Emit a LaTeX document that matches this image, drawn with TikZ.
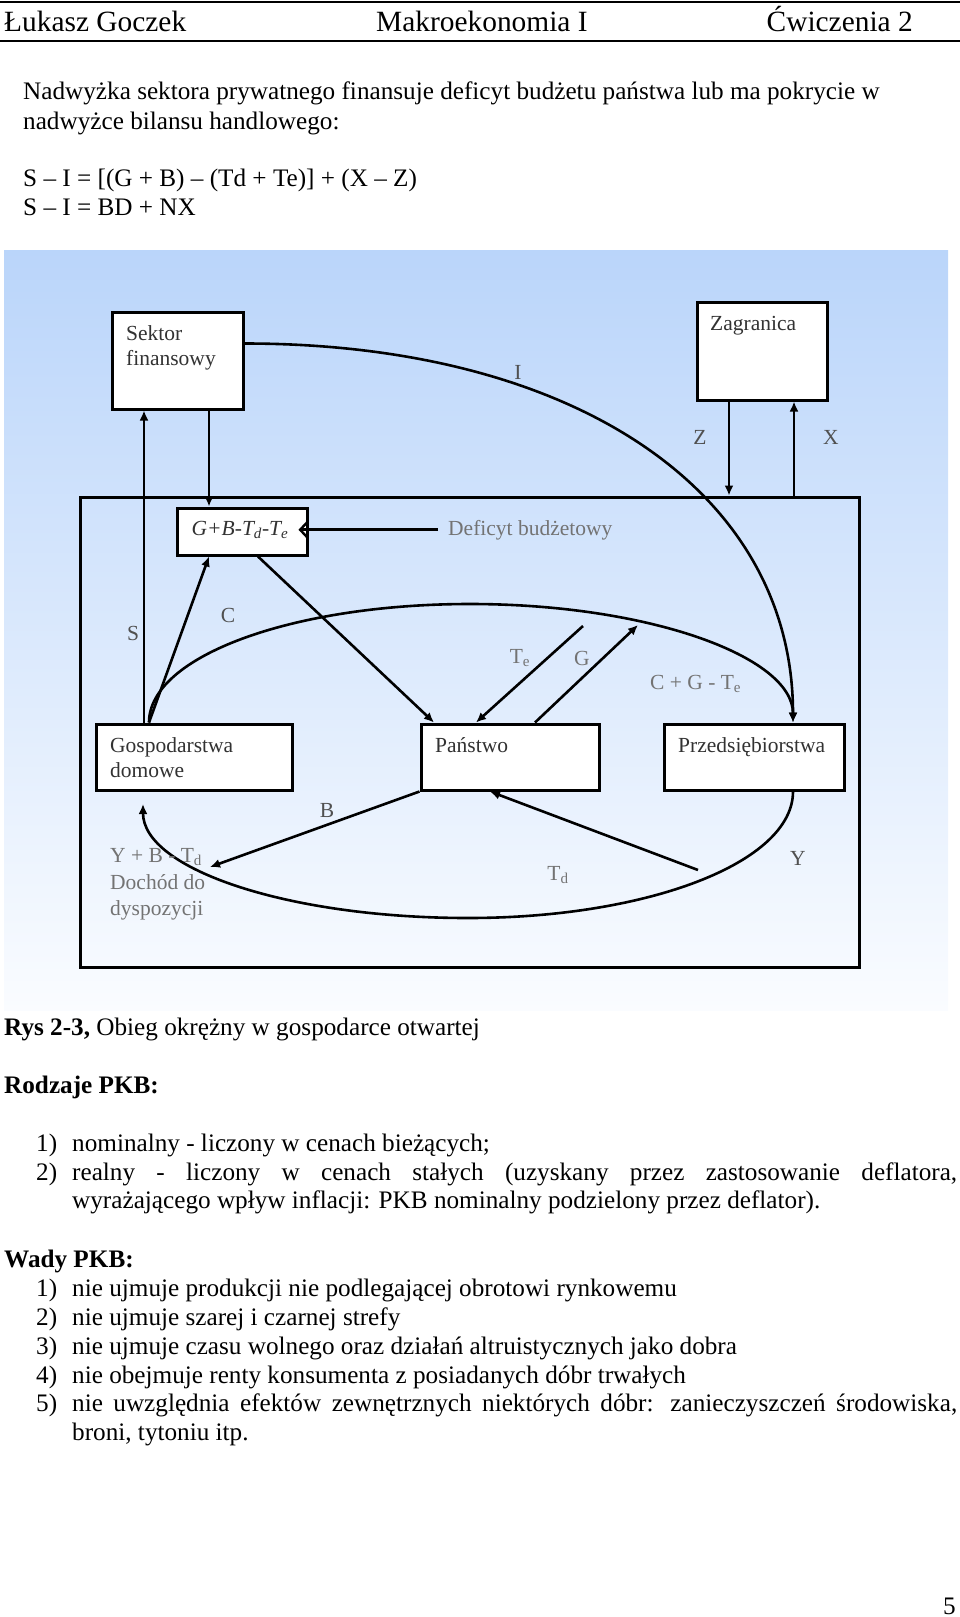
\documentclass[tikz,border=0pt]{standalone}
\usepackage{fontspec}
\setmainfont{Liberation Serif}
\usetikzlibrary{arrows.meta,calc}
\definecolor{bgtop}{RGB}{186,213,250}
\definecolor{bgbot}{RGB}{250,252,255}
\definecolor{boxtext}{RGB}{50,50,50}
\definecolor{lbldark}{RGB}{80,80,80}
\definecolor{lbllight}{RGB}{115,115,115}
\begin{document}
\begin{tikzpicture}[x=1pt,y=-1pt,
  body/.style={anchor=base west,inner sep=0pt,font=\fontsize{25.2}{29}\selectfont},
  head/.style={inner sep=0pt,font=\fontsize{29.4}{33}\selectfont},
  box/.style={draw,line width=3pt,fill=white,inner sep=0pt},
  boxlbl/.style={anchor=base west,inner sep=0pt,text=boxtext,font=\fontsize{21.5}{25}\selectfont},
  flowlbl/.style={inner sep=0pt,text=lbldark,font=\fontsize{21.5}{25}\selectfont},
  softlbl/.style={inner sep=0pt,text=lbllight,font=\fontsize{21.5}{25}\selectfont},
  arr/.style={line width=2.6pt,-{Latex[length=10pt,width=9pt]}},
  flow/.style={line width=2.6pt}
]
\useasboundingbox (0,0) rectangle (960,1617);

% ---------- header ----------
\draw[line width=2.5pt] (0,2) -- (960,2);
\draw[line width=2pt] (0,41) -- (960,41);
\node[head,anchor=base west] (author) at (4,31) {Łukasz Goczek};
\node[head,anchor=base west] (course) at (376,31) {Makroekonomia I};
\node[head,anchor=base east] (lesson) at (913,31) {Ćwiczenia 2};

% ---------- intro ----------
\node[body] (p1) at (23,99) {Nadwyżka sektora prywatnego finansuje deficyt budżetu państwa lub ma pokrycie w};
\node[body] (p2) at (23,129) {nadwyżce bilansu handlowego:};
\node[body] (f1) at (23,186) {S – I = [(G + B) – (Td + Te)] + (X – Z)};
\node[body] (f2) at (23,215) {S – I = BD + NX};

% ---------- diagram background ----------
\shade[top color=bgtop,bottom color=bgbot] (4,250) rectangle (948,1010);

% outer economy box
\node[draw,line width=3pt,inner sep=0pt,minimum width=779pt,minimum height=470pt] (outer) at (469.5,732) {};

% boxes
\node[box,minimum width=131pt,minimum height=97pt] (sektor) at (177.5,360.5) {};
\node[box,minimum width=130pt,minimum height=98pt] (zagr) at (762,351) {};
\node[box,minimum width=130pt,minimum height=47pt] (gb) at (242,531.5) {};
\node[box,minimum width=196pt,minimum height=66pt] (gosp) at (194,757) {};
\node[box,minimum width=178pt,minimum height=66pt] (panstwo) at (510,757) {};
\node[box,minimum width=180pt,minimum height=66pt] (przed) at (754,757) {};

% box texts
\node[boxlbl] (tsek1) at (126,340) {Sektor};
\node[boxlbl] (tsek2) at (126,365) {finansowy};
\node[boxlbl] (tzag) at (710,330) {Zagranica};
\node[boxlbl] (tgos1) at (110,752) {Gospodarstwa};
\node[boxlbl] (tgos2) at (110,777) {domowe};
\node[boxlbl] (tpan) at (435,752) {Państwo};
\node[boxlbl] (tprz) at (678,752) {Przedsiębiorstwa};
\node[boxlbl,anchor=base] (tgb) at (240,535) {\itshape G+B-T\textsubscript{d}-T\textsubscript{e}};

% x positions for connectors
\coordinate (cS) at (144,0);
\coordinate (cC) at (149,0);
\coordinate (cF) at (209,0);
\coordinate (cGP) at (258,0);
\coordinate (cPG) at (434,0);
\coordinate (cTe) at (476,0);
\coordinate (cG) at (535,0);
\coordinate (cTd) at (490,0);
\coordinate (cR) at (793,0);
\coordinate (cZ) at (729,0);
\coordinate (cX) at (794,0);
\coordinate (iS) at ($(sektor.north east)+(0,33)$);
\coordinate (ctop) at (470,604);
\coordinate (ybot) at (468,918);
\coordinate (yE) at (143,804);
\coordinate (teS) at (583,626);
\coordinate (gE) at (638,625);
\coordinate (bE) at (210,867);
\coordinate (tdS) at (698,870);

% connectors
\draw[arr] (gosp.north -| cS) -- (sektor.south -| cS);
\draw[arr] (sektor.south -| cF) -- (gb.north -| cF);
\draw[arr] (gosp.north -| cC) -- (gb.south -| cF);
\draw[arr] (gb.south -| cGP) -- (panstwo.north -| cPG);
\node[softlbl,anchor=base west] (defl) at (448,535) {Deficyt budżetowy};
\draw[line width=2.6pt,-{Straight Barb[length=7pt,width=15pt,line width=2.4pt]}] ([xshift=-10pt]defl.west) -- ([xshift=-10pt]defl.west -| gb.east);
\draw[arr] (iS) .. controls +(330,0) and +(0,-231) .. (przed.north -| cR);
\draw[arr] (gosp.north -| cC) .. controls +(0,-66) and +(-178,0) .. (ctop)
   .. controls +(178,0) and +(0,-66) .. (przed.north -| cR);
\draw[arr] (teS) -- (panstwo.north -| cTe);
\draw[arr] (panstwo.north -| cG) -- (gE);
\draw[arr] (panstwo.south west) -- (bE);
\draw[arr] (przed.south -| cR) .. controls +(0,71) and +(180,0) .. (ybot)
   .. controls +(-180,0) and +(0,65) .. (yE);
\draw[arr] (tdS) -- (panstwo.south -| cTd);
\draw[arr] (zagr.south -| cZ) -- (outer.north -| cZ);
\draw[arr] (outer.north -| cX) -- (zagr.south -| cX);

% flow labels
\node[flowlbl] (lI) at (518,372) {I};
\node[flowlbl] (lZ) at (700,437) {Z};
\node[flowlbl] (lX) at (831,437) {X};
\node[flowlbl] (lS) at (133,633) {S};
\node[flowlbl] (lC) at (228,615) {C};
\node[softlbl] (lTe) at (520,658) {T\textsubscript{e}};
\node[softlbl] (lG) at (582,658) {G};
\node[softlbl,anchor=west] (lCG) at (650,684) {C + G - T\textsubscript{e}};
\node[flowlbl] (lB) at (327,810) {B};
\node[flowlbl] (lY) at (798,858) {Y};
\node[softlbl] (lTd) at (558,875) {T\textsubscript{d}};
\node[softlbl,anchor=base west] (ld1) at (110,862) {Y + B - T\textsubscript{d}};
\node[softlbl,anchor=base west] (ld2) at (110,889) {Dochód do};
\node[softlbl,anchor=base west] (ld3) at (110,915) {dyspozycji};

% ---------- caption and lists ----------
\node[body] (cap) at (4,1035) {\textbf{Rys 2-3,} Obieg okrężny w gospodarce otwartej};
\node[body] (rodz) at (4,1093) {\textbf{Rodzaje PKB:}};
\node[body] (r1n) at (36,1151) {1)};
\node[body] (r1) at (72,1151) {nominalny - liczony w cenach bieżących;};
\node[body] (r2n) at (36,1180) {2)};
\node[body] (r2) at (72,1180) {\makebox[885pt][s]{realny - liczony w cenach stałych (uzyskany przez zastosowanie deflatora,}};
\node[body] (r2b) at (72,1208) {wyrażającego wpływ inflacji: PKB nominalny podzielony przez deflator).};
\node[body] (wady) at (4,1267) {\textbf{Wady PKB:}};
\node[body] (w1n) at (36,1296) {1)};
\node[body] (w1) at (72,1296) {nie ujmuje produkcji nie podlegającej obrotowi rynkowemu};
\node[body] (w2n) at (36,1325) {2)};
\node[body] (w2) at (72,1325) {nie ujmuje szarej i czarnej strefy};
\node[body] (w3n) at (36,1354) {3)};
\node[body] (w3) at (72,1354) {nie ujmuje czasu wolnego oraz działań altruistycznych jako dobra};
\node[body] (w4n) at (36,1383) {4)};
\node[body] (w4) at (72,1383) {nie obejmuje renty konsumenta z posiadanych dóbr trwałych};
\node[body] (w5n) at (36,1411) {5)};
\node[body] (w5) at (72,1411) {\makebox[885pt][s]{nie uwzględnia efektów zewnętrznych niektórych dóbr: zanieczyszczeń środowiska,}};
\node[body] (w5b) at (72,1440) {broni, tytoniu itp.};
\node[body,anchor=base east] (pnum) at (956,1614) {5};
\end{tikzpicture}
\end{document}
